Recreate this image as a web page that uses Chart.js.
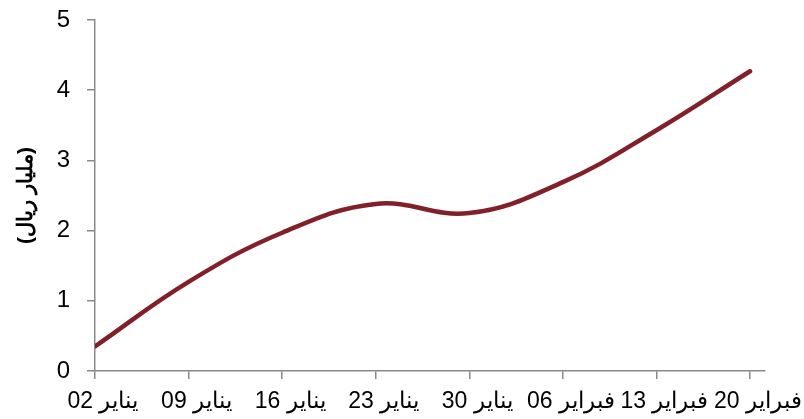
<!DOCTYPE html>
<html>
<head>
<meta charset="utf-8">
<script src="https://cdn.jsdelivr.net/npm/chart.js@4/dist/chart.umd.min.js"></script>
<style>
  html, body { margin: 0; padding: 0; background: #fff; }
  canvas { display: block; }
</style>
</head>
<body>
<canvas id="chart" width="804" height="419"></canvas>
<script>
(function () {
    'use strict'

    // weekly dates and values (billion riyals)
    const dates = ['02 يناير', '09 يناير', '16 يناير', '23 يناير', '30 يناير', '06 فبراير', '13 فبراير', '20 فبراير'];
    const values = [0.35, 1.27, 1.97, 2.38, 2.25, 2.69, 3.43, 4.27];
    const yTitle = '(مليار ريال)';

    const axisGrey = '#898989';
    const family = "'Liberation Sans', Arial, sans-serif";

    let ctx = document.getElementById('chart');
    new Chart(ctx, {
        type: 'line',
        data: {
            datasets: [{
                data: values.map((v, i) => ({ x: i, y: v })),
                borderColor: '#82202a',
                borderWidth: 4.5,
                borderCapStyle: 'round',
                tension: 0.4,
                pointRadius: 0,
                fill: false
            }]
        },
        options: {
            responsive: false,
            animation: false,
            layout: {
                padding: { left: 0, top: 20, right: 39, bottom: 0 }
            },
            plugins: {
                legend: { display: false },
                tooltip: { enabled: false }
            },
            scales: {
                x: {
                    type: 'linear',
                    min: 0,
                    max: dates.length - 1 + 0.16,
                    afterBuildTicks: function (scale) {
                        // one tick per date; the axis line runs a bit past the last one
                        scale.ticks = dates.map((d, i) => ({ value: i }));
                    },
                    afterFit: function (scale) {
                        scale.height = 48;
                        scale.paddingLeft = 0;
                        scale.paddingRight = 0;
                    },
                    grid: {
                        drawOnChartArea: false,
                        drawTicks: true,
                        tickLength: 8,
                        color: axisGrey,
                        lineWidth: 1.5
                    },
                    border: { display: true, color: axisGrey, width: 1.5 },
                    ticks: {
                        autoSkip: false,
                        maxRotation: 0,
                        labelOffset: 8,
                        padding: 9,
                        color: '#000',
                        font: { family: family, size: 23 },
                        callback: function (v) { return '\u200E' + dates[v]; }
                    }
                },
                y: {
                    min: 0,
                    max: 5,
                    afterFit: function (scale) {
                        scale.width = 95;
                        scale.paddingTop = 0;
                        scale.paddingBottom = 0;
                    },
                    grid: {
                        drawOnChartArea: false,
                        drawTicks: true,
                        tickLength: 8,
                        color: axisGrey,
                        lineWidth: 1.5
                    },
                    border: { display: true, color: axisGrey, width: 1.5 },
                    ticks: {
                        stepSize: 1,
                        padding: 17,
                        color: '#000',
                        font: { family: family, size: 24 }
                    },
                    title: {
                        display: true,
                        text: yTitle,
                        color: '#000',
                        padding: { top: 14, bottom: 0 },
                        font: { family: family, size: 21, weight: 'bold' }
                    }
                }
            }
        }
    });
})()
</script>
</body>
</html>
